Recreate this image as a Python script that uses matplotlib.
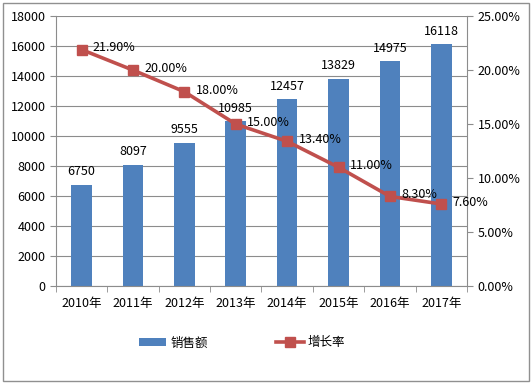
import numpy as np
import matplotlib.pyplot as plt
from matplotlib.patches import Rectangle
from matplotlib.ticker import FuncFormatter

plt.rcParams['font.family'] = ['Noto Sans CJK SC', 'DejaVu Sans']
plt.rcParams['axes.unicode_minus'] = False

# ---------------数据--------------
years = ['2010年', '2011年', '2012年', '2013年', '2014年', '2015年', '2016年', '2017年']
sales = [6750, 8097, 9555, 10985, 12457, 13829, 14975, 16118]
growth = [21.90, 20.00, 18.00, 15.00, 13.40, 11.00, 8.30, 7.60]

bar_color = '#4F81BD'
line_color = '#C0504D'
grid_color = '#8C8C8C'
fs = 9

fig = plt.figure(figsize=(5.32, 3.84), dpi=100)
ax = fig.add_axes([0.105, 0.255, 0.773, 0.703])
x = np.arange(len(years))

# 柱状图 销售额
bars = ax.bar(x, sales, width=0.4, color=bar_color, label='销售额', zorder=2)
for xi, v in zip(x, sales):
    ax.text(xi, v + 450, str(v), ha='center', va='bottom', fontsize=fs, color='black')

ax.set_xlim(-0.5, len(years) - 0.5)
ax.set_ylim(0, 18000)
ax.set_yticks(np.arange(0, 18001, 2000))
ax.yaxis.grid(True, color=grid_color, linewidth=0.8, zorder=0)
ax.set_axisbelow(True)
ax.set_xticks(x)
ax.set_xticklabels(years)
ax.set_xticks(np.arange(-0.5, len(years), 1), minor=True)
ax.tick_params(axis='x', which='major', length=0, pad=8, labelsize=fs)
ax.tick_params(axis='x', which='minor', length=4, color=grid_color)
ax.tick_params(axis='y', length=4, color=grid_color, labelsize=fs)
for s in ['top', 'right']:
    ax.spines[s].set_visible(False)
for s in ['left', 'bottom']:
    ax.spines[s].set_color(grid_color)

# 折线图 增长率
ax2 = ax.twinx()
line, = ax2.plot(x, growth, color=line_color, linewidth=2.6, marker='s',
                 markersize=7.5, markerfacecolor=line_color, markeredgecolor=line_color,
                 label='增长率', zorder=3)
for xi, g in zip(x, growth):
    ax2.text(xi + 0.22, g + 0.15, '%.2f%%' % g, ha='left', va='center', fontsize=fs, color='black')
ax2.set_ylim(0, 25)
ax2.set_yticks(np.arange(0, 25.01, 5))
ax2.yaxis.set_major_formatter(FuncFormatter(lambda v, p: '%.2f%%' % v))
ax2.tick_params(axis='y', length=4, color=grid_color, labelsize=fs)
for s in ['top', 'left', 'bottom']:
    ax2.spines[s].set_visible(False)
ax2.spines['right'].set_color(grid_color)

# 图例
fig.legend(handles=[bars, line], labels=['销售额', '增长率'], loc='center',
           bbox_to_anchor=(0.455, 0.107), ncol=2, frameon=False, fontsize=fs,
           handlelength=2.2, handletextpad=0.3, columnspacing=5.5)

# 外边框
fig.patches.append(Rectangle((0.005, 0.008), 0.99, 0.984, transform=fig.transFigure,
                             fill=False, edgecolor='#909090', linewidth=1))

plt.savefig('out.png', dpi=100)
